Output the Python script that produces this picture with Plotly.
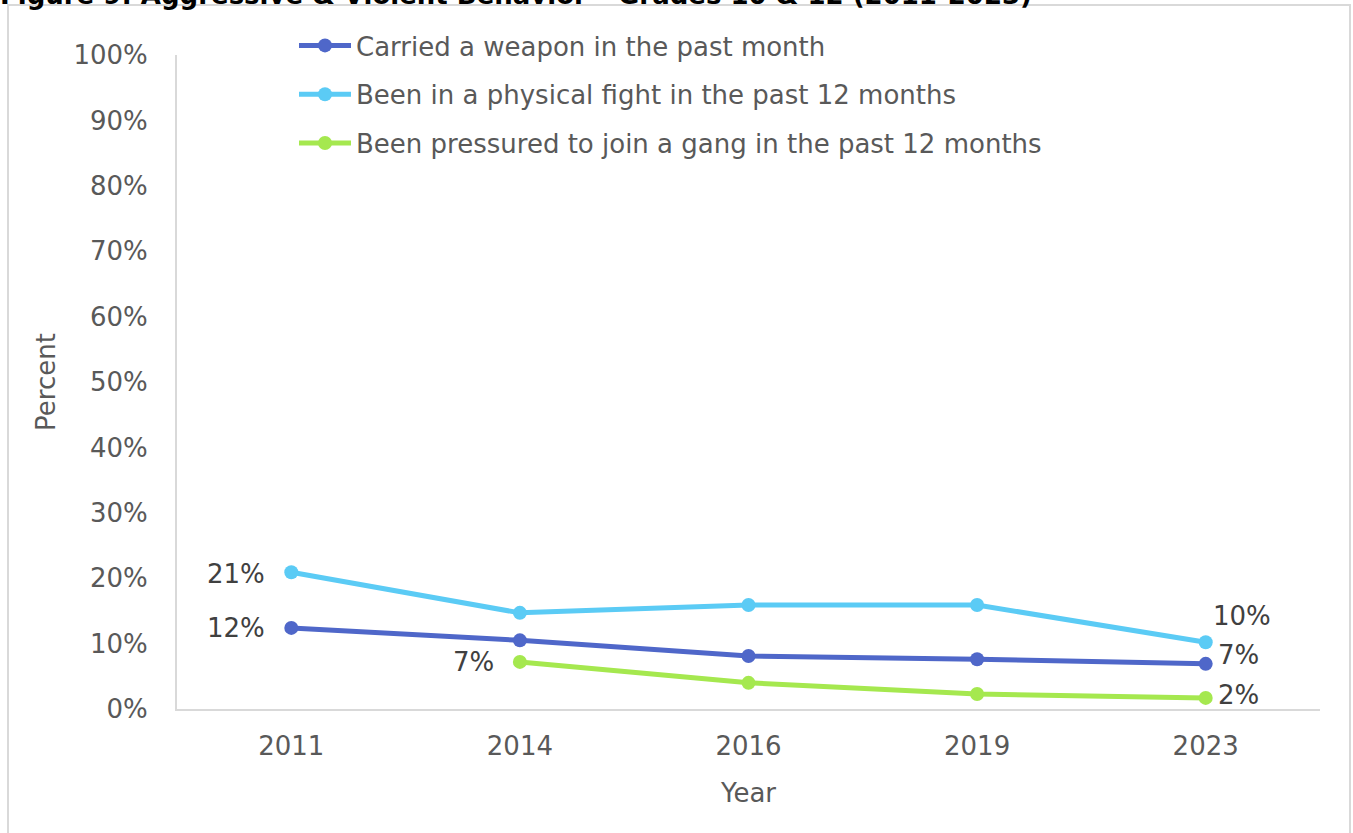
import plotly.graph_objects as go

years = ["2011", "2014", "2016", "2019", "2023"]
weapon = [12.4, 10.5, 8.1, 7.6, 6.9]
fight = [20.9, 14.7, 15.9, 15.9, 10.2]
gang = [None, 7.2, 4.0, 2.3, 1.7]

weapon_labels = ["12%", "", "", "", "7%"]
fight_labels = ["21%", "", "", "", "10%"]
gang_labels = ["", "7%", "", "", "2%"]

names = ["Carried a weapon in the past month",
         "Been in a physical fight in the past 12 months",
         "Been pressured to join a gang in the past 12 months"]
colors = ["#4F67C9", "#5BCBF5", "#A5E84F"]

W, H = 1353, 833
L, R, T, B = 177, 1320, 55, 709
pw, ph = R - L, B - T

def px(x):
    return (x - L) / pw

def py(y):
    return (B - y) / ph

FONT = "DejaVu Sans, Verdana, sans-serif"
FS = 26
TXT = "#404040"
TICK = "#595959"

fig = go.Figure()
for i, vals in enumerate([weapon, fight, gang]):
    fig.add_trace(go.Scatter(
        x=years, y=vals, name=names[i], mode="lines+markers",
        line=dict(color=colors[i], width=5),
        marker=dict(color=colors[i], size=14),
        legendgroup=str(i), connectgaps=False, cliponaxis=False,
    ))

# data labels: (values, labels, per-point (xanchor, xshift, yshift))
label_sets = [
    (weapon, weapon_labels, {0: ("right", -24, 0), 4: ("left", 10, 9)}),
    (fight, fight_labels, {0: ("right", -24, -2), 4: ("left", 5, 26)}),
    (gang, gang_labels, {1: ("right", -24, 0), 4: ("left", 10, 3)}),
]
for vals, labs, placement in label_sets:
    for idx, (xa, xs, ys) in placement.items():
        fig.add_annotation(x=idx, y=vals[idx], xref="x", yref="y", text=labs[idx],
                           showarrow=False, xanchor=xa, yanchor="middle",
                           xshift=xs, yshift=ys,
                           font=dict(family=FONT, size=FS, color=TXT))

fig.update_layout(
    width=W, height=H,
    margin=dict(l=L, r=W - R, t=T, b=H - B, pad=0),
    paper_bgcolor="white", plot_bgcolor="white",
    font=dict(family=FONT, size=FS, color=TICK),
    showlegend=True,
    legend=dict(x=px(294), y=py(22), xanchor="left", yanchor="top",
                bgcolor="rgba(0,0,0,0)", font=dict(family=FONT, size=FS, color=TICK),
                traceorder="grouped", tracegroupgap=12, itemwidth=52),
    xaxis=dict(type="category", range=[-0.5, 4.5], showgrid=False, showline=True,
               linecolor="#D9D9D9", linewidth=2, ticks="", ticklabelstandoff=13,
               tickfont=dict(size=FS, color=TICK),
               title=dict(text="Year", font=dict(size=FS, color=TICK), standoff=24),
               zeroline=False),
    yaxis=dict(range=[0, 100], tickvals=[0, 10, 20, 30, 40, 50, 60, 70, 80, 90, 100],
               ticktext=[f"{v}%" for v in range(0, 101, 10)],
               showgrid=False, showline=True, linecolor="#D9D9D9", linewidth=2,
               ticks="", ticklabelstandoff=22, tickfont=dict(size=FS, color=TICK),
               title=dict(text="Percent", font=dict(size=FS, color=TICK), standoff=10),
               zeroline=False),
)

# outer chart border
fig.add_shape(type="rect", xref="paper", yref="paper",
              x0=px(8), x1=px(1350), y0=py(900), y1=py(5),
              line=dict(color="#D9D9D9", width=2), fillcolor="rgba(0,0,0,0)", layer="below")

# cut-off figure title
fig.add_annotation(xref="paper", yref="paper", x=px(-2), y=py(12), xanchor="left",
                   yanchor="bottom", showarrow=False,
                   text="<b>Figure 9: Aggressive & Violent Behavior – Grades 10 & 12 (2011-2023)</b>",
                   font=dict(family=FONT, size=FS, color="black"))

fig.write_html("out.html", config={"displayModeBar": False},
               post_script="document.body.style.margin='0';")
